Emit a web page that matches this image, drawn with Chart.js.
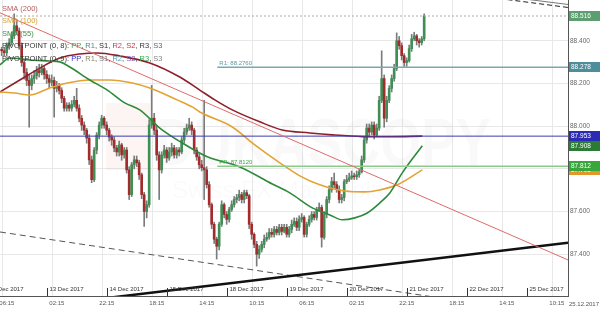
<!DOCTYPE html>
<html>
<head>
<meta charset="utf-8">
<script src="https://cdn.jsdelivr.net/npm/chart.js@4.4.0/dist/chart.umd.min.js"></script>
<style>
  html, body { margin: 0; padding: 0; background: #fff; }
</style>
</head>
<body>
<canvas id="chart" width="600" height="320"></canvas>
<script>
// hourly candles, first one at 12 Dec 06:00 (hour axis: 0 = 12 Dec 06:15, weekend skipped)
const candleStart = -0.25;
const opens = [
  88.360,88.353,88.344,88.377,88.391,88.423,88.470,88.446,88.377,88.298,
  88.251,88.214,88.191,88.223,88.237,88.260,88.251,88.270,88.242,88.223,
  88.205,88.214,88.177,88.191,88.167,88.130,88.084,88.098,88.084,88.102,
  88.121,88.084,88.037,88.005,87.981,87.944,87.842,87.749,87.888,87.958,
  88.005,88.037,88.005,87.981,87.949,87.935,87.898,87.879,87.912,87.865,
  87.888,87.795,87.679,87.819,87.842,87.828,87.772,87.679,87.600,87.632,
  88.005,88.037,87.981,87.865,87.795,87.865,87.888,87.851,87.879,87.898,
  87.865,87.888,87.879,87.935,87.972,87.991,88.005,87.981,87.888,87.856,
  87.819,87.805,87.795,87.726,87.632,87.540,87.470,87.437,87.540,87.632,
  87.586,87.563,87.609,87.632,87.656,87.665,87.679,87.656,87.688,87.674,
  87.540,87.493,87.446,87.400,87.423,87.446,87.470,87.479,87.502,87.493,
  87.516,87.502,87.526,87.507,87.526,87.493,87.516,87.540,87.553,87.526,
  87.563,87.572,87.493,87.540,87.563,87.586,87.572,87.609,87.619,87.479,
  87.586,87.656,87.702,87.740,87.726,87.702,87.656,87.665,87.740,87.749,
  87.758,87.767,87.763,87.772,87.786,87.842,87.935,87.991,87.972,88.005,
  87.958,87.991,88.121,88.223,88.037,88.121,88.177,88.223,88.270,88.400,
  88.377,88.330,88.298,88.307,88.363,88.409,88.423,88.400,88.391,88.409
];
const highs = [
  88.37,88.37,88.39,88.41,88.44,88.526,88.50,88.46,88.39,88.31,
  88.27,88.24,88.24,88.26,88.28,88.29,88.29,88.28,88.26,88.24,
  88.24,88.23,88.21,88.20,88.18,88.14,88.11,88.11,88.12,88.14,
  88.177,88.10,88.05,88.02,87.99,87.96,87.86,87.90,87.97,88.02,
  88.051,88.045,88.02,87.99,87.96,87.95,87.91,87.93,87.92,87.90,
  87.90,87.81,87.83,87.86,87.86,87.84,87.78,87.69,87.65,88.03,
  88.191,88.06,88.00,87.88,87.88,87.91,87.90,87.90,87.92,87.91,
  87.90,87.90,87.95,87.99,88.01,88.037,88.02,87.99,87.90,87.87,
  87.84,88.121,87.81,87.74,87.64,87.55,87.48,87.55,87.65,87.64,
  87.60,87.62,87.65,87.67,87.68,87.70,87.69,87.70,87.70,87.68,
  87.55,87.50,87.46,87.44,87.46,87.49,87.50,87.52,87.52,87.53,
  87.53,87.54,87.54,87.54,87.54,87.53,87.56,87.57,87.57,87.58,
  87.59,87.58,87.55,87.58,87.60,87.60,87.62,87.64,87.63,87.60,
  87.67,87.72,87.76,87.78,87.74,87.72,87.68,87.75,87.77,87.78,
  87.79,87.78,87.79,87.80,87.86,87.95,88.01,88.01,88.02,88.02,
  88.01,88.14,88.353,88.24,88.14,88.19,88.24,88.29,88.437,88.42,
  88.39,88.34,88.32,88.38,88.43,88.44,88.43,88.41,88.42,88.526
];
const lows = [
  88.33,88.33,88.33,88.36,88.38,88.41,88.43,88.36,88.28,88.22,
  88.19,87.995,88.17,88.20,88.22,88.23,88.24,88.22,88.20,88.18,
  88.19,88.042,88.16,88.15,88.11,88.07,88.07,88.07,88.07,88.09,
  88.07,88.02,87.98,87.96,87.92,87.82,87.735,87.74,87.87,87.94,
  87.99,87.99,87.96,87.93,87.91,87.88,87.86,87.86,87.84,87.85,
  87.78,87.656,87.67,87.80,87.81,87.75,87.66,87.530,87.57,87.62,
  87.99,87.96,87.84,87.656,87.78,87.85,87.83,87.84,87.86,87.85,
  87.85,87.86,87.87,87.92,87.96,87.98,87.96,87.87,87.84,87.80,
  87.79,87.656,87.71,87.62,87.52,87.45,87.377,87.42,87.53,87.57,
  87.54,87.55,87.60,87.62,87.64,87.65,87.64,87.64,87.66,87.52,
  87.47,87.43,87.344,87.38,87.41,87.43,87.46,87.47,87.48,87.48,
  87.49,87.49,87.49,87.50,87.48,87.48,87.50,87.53,87.51,87.51,
  87.55,87.48,87.48,87.53,87.55,87.56,87.56,87.60,87.433,87.47,
  87.57,87.64,87.69,87.71,87.69,87.64,87.64,87.65,87.73,87.74,
  87.75,87.75,87.75,87.76,87.78,87.83,87.92,87.95,87.96,87.94,
  87.95,87.98,88.11,87.995,88.02,88.11,88.16,88.21,88.26,88.36,
  88.31,88.28,88.28,88.30,88.35,88.40,88.38,88.37,88.38,88.40
];
const closes = [
  88.353,88.344,88.377,88.391,88.423,88.470,88.446,88.377,88.298,88.251,
  88.214,88.191,88.223,88.237,88.260,88.251,88.270,88.242,88.223,88.205,
  88.214,88.177,88.191,88.167,88.130,88.084,88.098,88.084,88.102,88.121,
  88.084,88.037,88.005,87.981,87.944,87.842,87.749,87.888,87.958,88.005,
  88.037,88.005,87.981,87.949,87.935,87.898,87.879,87.912,87.865,87.888,
  87.795,87.679,87.819,87.842,87.828,87.772,87.679,87.600,87.632,88.005,
  88.037,87.981,87.865,87.795,87.865,87.888,87.851,87.879,87.898,87.865,
  87.888,87.879,87.935,87.972,87.991,88.005,87.981,87.888,87.856,87.819,
  87.805,87.795,87.726,87.632,87.540,87.470,87.437,87.540,87.632,87.586,
  87.563,87.609,87.632,87.656,87.665,87.679,87.656,87.688,87.674,87.540,
  87.493,87.446,87.400,87.423,87.446,87.470,87.479,87.502,87.493,87.516,
  87.502,87.526,87.507,87.526,87.493,87.516,87.540,87.553,87.526,87.563,
  87.572,87.493,87.540,87.563,87.586,87.572,87.609,87.619,87.479,87.586,
  87.656,87.702,87.740,87.726,87.702,87.656,87.665,87.740,87.749,87.758,
  87.767,87.763,87.772,87.786,87.842,87.935,87.991,87.972,88.005,87.958,
  87.991,88.121,88.223,88.037,88.121,88.177,88.223,88.270,88.400,88.377,
  88.330,88.298,88.307,88.363,88.409,88.423,88.400,88.391,88.409,88.516
];

// moving averages [hour, price]
const sma200 = [[-1,88.16],[7,88.216],[15,88.272],[23,88.319],[31,88.338],[38,88.343],[47,88.329],[59,88.296],[71,88.23],[79,88.169],[85,88.123],[92,88.076],[103,88.02],[112,87.982],[123,87.968],[132,87.959],[144,87.951],[155,87.95],[168,87.953]];
const sma100 = [[-1,88.16],[5,88.155],[11,88.146],[19,88.179],[26,88.202],[35,88.216],[43,88.216],[52,88.202],[59,88.179],[70,88.123],[76,88.09],[79,88.066],[92,87.996],[101,87.912],[111,87.828],[119,87.767],[127,87.725],[137,87.696],[145,87.692],[151,87.701],[158,87.725],[168,87.795]];
const sma55 = [[-1,88.287],[3,88.319],[11,88.31],[19,88.305],[23,88.301],[27,88.277],[35,88.216],[42,88.169],[49,88.109],[55,88.076],[63,87.991],[72,87.921],[82,87.856],[95,87.809],[108,87.729],[115,87.687],[124,87.617],[131,87.584],[136,87.561],[141,87.57],[146,87.593],[151,87.64],[155,87.687],[160,87.781],[168,87.908]];

// drawn trend lines [hour, price]
const trendRed = [[-0.92,88.531],[226.28,87.373]];
const trendBlack = [[40,87.192],[226.28,87.453]];
const trendDashed = [[-0.92,87.504],[226.28,87.105]];
const channelSolid = [[183,88.634],[226.28,88.570]];
const channelDashed = [[183,88.622],[226.28,88.556]];

const levelBlue = 87.953;
const levelR1 = 88.276;
const levelPP = 87.812;
const lastPrice = 88.516;
const pivotStart = 86;

const xMin = -0.92, xMax = 226.28;
const yMin = 87.204, yMax = 88.591;

const timeTicks = [0,20,40,60,80,100,120,140,160,180,200,220];
const timeLabels = ['06:15','02:15','22:15','18:15','14:15','10:15','06:15','02:15','22:15','18:15','14:15','10:15'];
const dateTicks = [-6.25,17.75,41.75,65.75,89.75,113.75,137.75,161.75,185.75,209.75];
const dateLabels = ['12 Dec 2017','13 Dec 2017','14 Dec 2017','15 Dec 2017','18 Dec 2017','19 Dec 2017','20 Dec 2017','21 Dec 2017','22 Dec 2017','25 Dec 2017'];

const boxValues = [88.516, 88.278, 87.953, 87.908, 87.795, 87.812];
const boxColors = ['#5c9e70', '#4e8e9b', '#2a2ab4', '#2b7a36', '#e2972b', '#37a63b'];

const FONT = '"Liberation Sans", Arial, sans-serif';

const pts = arr => arr.map(p => ({x: p[0], y: p[1]}));
const hline = (v, from) => [{x: from, y: v}, {x: xMax, y: v}];

const candleX = opens.map((o, i) => candleStart + i);
const bodyColors = opens.map((o, i) => closes[i] >= o ? '#3f8f55' : '#a32b2b');

function lineSet(data, color, width, extra) {
    return Object.assign({
        type: 'line', data: data, borderColor: color, borderWidth: width,
        pointRadius: 0, fill: false, tension: 0
    }, extra || {});
}

const legendRows = [
    [['SMA (200)', '#b5585b']],
    [['SMA (100)', '#d9a235']],
    [['SMA (55)', '#3d8f45']],
    [['PIVOTPOINT (0, 8): ', '#333'], ['PP', '#2ea84e'], [', ', '#333'], ['R1', '#3e8c8c'], [', ', '#333'],
     ['S1', '#333'], [', ', '#333'], ['R2', '#cc3366'], [', ', '#333'], ['S2', '#cc3333'], [', ', '#333'],
     ['R3', '#333'], [', ', '#333'], ['S3', '#556688']],
    [['PIVOTPOINT (0, 9): ', '#333'], ['PP', '#3434c8'], [', ', '#333'], ['R1', '#888866'], [', ', '#333'],
     ['S1', '#777'], [', ', '#333'], ['R2', '#5a9aaa'], [', ', '#333'], ['S2', '#7755aa'], [', ', '#333'],
     ['R3', '#2ea84e'], [', ', '#333'], ['S3', '#888']]
];

const decor = {
    id: 'decor',
    beforeDatasetsDraw(chart) {
        const ctx = chart.ctx;
        ctx.save();
        ctx.fillStyle = 'rgba(220,70,70,0.06)';
        ctx.fillRect(106, 103, 44, 67);
        ctx.fillStyle = 'rgba(0,0,0,0.025)';
        ctx.font = 'bold 66px ' + FONT;
        const w = ctx.measureText('DUKASCOPY').width;
        ctx.translate(156, 165);
        ctx.scale(335 / w, 1);
        ctx.fillText('DUKASCOPY', 0, 0);
        ctx.restore();
        ctx.save();
        ctx.fillStyle = 'rgba(0,0,0,0.02)';
        ctx.font = '24px ' + FONT;
        ctx.fillText('Swiss FX Marketplace', 172, 198);
        ctx.restore();
    },
    afterDraw(chart) {
        const {ctx, chartArea: a, scales: {x, y}} = chart;
        ctx.save();

        // time labels under the axis
        ctx.font = '6px ' + FONT;
        ctx.fillStyle = '#555';
        ctx.textBaseline = 'middle';
        ctx.textAlign = 'left';
        timeTicks.forEach((h, i) => ctx.fillText(timeLabels[i], x.getPixelForValue(h) - 3, a.bottom + 7));
        ctx.fillText('25.12.2017', a.right + 1, a.bottom + 8);

        // day markers inside the plot
        ctx.strokeStyle = '#333';
        ctx.lineWidth = 1;
        ctx.fillStyle = '#333';
        dateTicks.forEach((h, i) => {
            const px = Math.round(x.getPixelForValue(h)) + 0.5;
            ctx.beginPath();
            ctx.moveTo(px, a.bottom);
            ctx.lineTo(px, a.bottom - 8);
            ctx.stroke();
            ctx.fillText(dateLabels[i], px + 2, a.bottom - 7);
        });

        // pivot level captions
        const px0 = x.getPixelForValue(pivotStart) + 2;
        ctx.fillStyle = '#5e97a3';
        ctx.fillText('R1: 88.2760', px0, y.getPixelForValue(levelR1) - 4);
        ctx.fillStyle = '#3fa34a';
        ctx.fillText('PP: 87.8120', px0, y.getPixelForValue(levelPP) - 4);

        // value boxes on the price axis
        ctx.font = '6.5px ' + FONT;
        boxValues.forEach((v, i) => {
            const py = Math.round(y.getPixelForValue(v));
            ctx.fillStyle = boxColors[i];
            ctx.fillRect(a.right + 1, py - 5, 32, 10);
            ctx.fillStyle = '#fff';
            ctx.fillText(v.toFixed(3), a.right + 3, py + 0.5);
        });

        // legend, top left
        ctx.font = '7.5px ' + FONT;
        legendRows.forEach((row, r) => {
            let tx = 2;
            const ty = 8.5 + r * 12.5;
            row.forEach(seg => {
                ctx.fillStyle = seg[1];
                ctx.fillText(seg[0], tx, ty);
                tx += ctx.measureText(seg[0]).width;
            });
        });
        ctx.restore();
    }
};

new Chart(document.getElementById('chart'), {
    type: 'bar',
    data: {
        datasets: [
            lineSet(pts(trendRed), '#e06a6a', 1),
            lineSet(pts(trendBlack), '#111', 2.5),
            lineSet(pts(trendDashed), '#555', 1, {borderDash: [6, 4]}),
            lineSet(pts(channelSolid), '#777', 1),
            lineSet(pts(channelDashed), '#222', 1, {borderDash: [5, 3]}),
            lineSet(hline(levelBlue, xMin), '#3b3bb0', 1),
            lineSet(hline(levelR1, pivotStart), '#7aa8b2', 1.5),
            lineSet(hline(levelPP, pivotStart), '#8acb8a', 1.5),
            lineSet(hline(lastPrice, xMin), '#aaa', 1, {borderDash: [2, 2]}),
            lineSet(pts(sma55), '#2d8a3a', 1.6, {cubicInterpolationMode: 'monotone'}),
            lineSet(pts(sma100), '#e3a334', 1.6, {cubicInterpolationMode: 'monotone'}),
            lineSet(pts(sma200), '#8e1f2b', 1.6, {cubicInterpolationMode: 'monotone'}),
            {
                type: 'bar',
                data: opens.map((o, i) => ({x: candleX[i], y: [o, closes[i]]})),
                backgroundColor: bodyColors,
                barThickness: 2,
                grouped: false,
                borderWidth: 0
            },
            {
                type: 'bar',
                data: lows.map((l, i) => ({x: candleX[i], y: [l, highs[i]]})),
                backgroundColor: '#7c7c7c',
                barThickness: 1,
                grouped: false,
                borderWidth: 0
            }
        ]
    },
    options: {
        responsive: false,
        devicePixelRatio: 1,
        animation: false,
        layout: {padding: 0},
        plugins: {legend: {display: false}, tooltip: {enabled: false}},
        scales: {
            x: {
                type: 'linear', min: xMin, max: xMax, offset: false,
                grid: {color: '#e8e8e8', drawTicks: false, offset: false},
                border: {color: '#555'},
                ticks: {display: false},
                afterBuildTicks: s => { s.ticks = timeTicks.map(v => ({value: v})); },
                afterFit: s => { s.height = 24; s.paddingLeft = 0; s.paddingRight = 0; }
            },
            y: {
                position: 'right', min: yMin, max: yMax, beginAtZero: false,
                grid: {color: '#e8e8e8', drawTicks: false},
                border: {color: '#555'},
                ticks: {
                    stepSize: 0.2, includeBounds: false, padding: 2, color: '#666',
                    font: {size: 6.5, family: FONT},
                    callback: v => v.toFixed(3)
                },
                afterFit: s => { s.width = 32; s.paddingTop = 0; s.paddingBottom = 0; }
            }
        }
    },
    plugins: [decor]
});
</script>
</body>
</html>
